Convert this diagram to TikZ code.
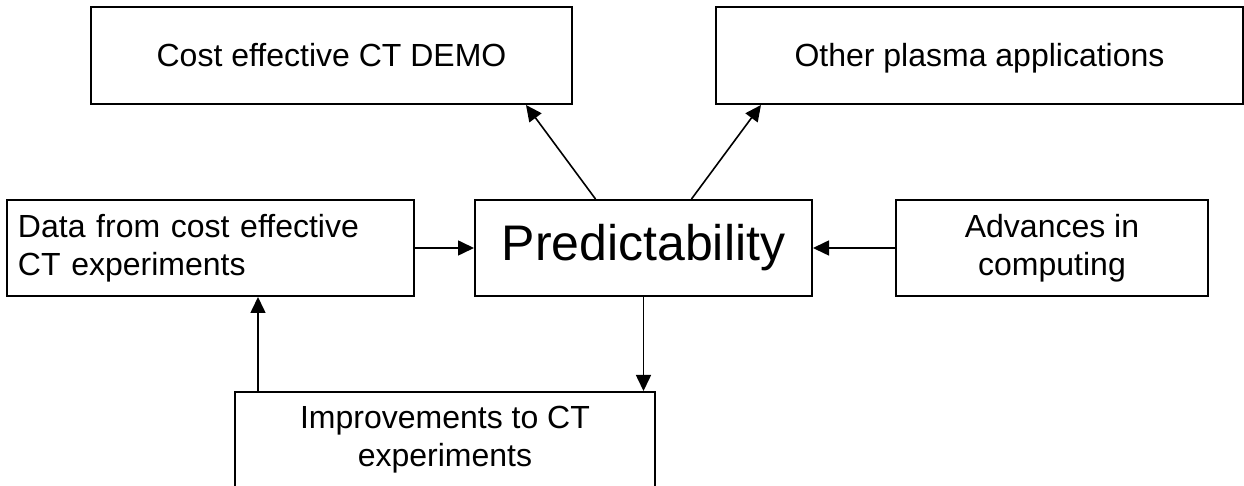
\documentclass[tikz,border=0pt]{standalone}
\usepackage{fontspec}
\setmainfont{Liberation Sans}
\usetikzlibrary{arrows.meta}
\begin{document}
\begin{tikzpicture}[x=0.5pt,y=-0.5pt]
\tikzstyle{every node}+=[font=\fontsize{16pt}{19pt}\selectfont]
\tikzstyle{box}=[draw=black, line width=1pt, minimum height=48pt, inner sep=0pt, align=center]
\tikzstyle{oneline}=[text height=13pt, text depth=2pt]
\tikzstyle{link}=[draw=black, line width=0.8pt, -{Triangle[length=8pt,width=7.5pt]}]
\useasboundingbox (0,0) rectangle (1244,486);
\node [box, oneline, minimum width=240.5pt, minimum height=48.5pt] (demo) at (331.5,55.5) {Cost effective CT DEMO};
\node [box, oneline, minimum width=263.5pt, minimum height=48.5pt] (other) at (979.5,55.5) {Other plasma applications};
\node [box, minimum width=203.5pt, text width=192.5pt, align=left] (data) at (210.5,248) {Data from cost effective\\CT experiments};
\node [box, minimum width=168.5pt, font=\fontsize{25pt}{30pt}\selectfont] (pred) at (643.5,248) {Predictability};
\node [box, minimum width=156pt] (adv) at (1052,248) {Advances in\\computing};
\node [box, minimum width=210pt] (impr) at (445,440) {Improvements to CT\\experiments};
\draw [link] ([xshift=-24pt]pred.north) -- ([xshift=-23.5pt]demo.south east);
\draw [link] ([xshift=24pt]pred.north) -- ([xshift=23pt]other.south west);
\draw [link] (data) -- (pred);
\draw [link] (adv) -- (pred);
\draw [link] (pred.south) -- (pred.south |- impr.north);
\draw [link] ([xshift=12pt]impr.north west) -- ([xshift=12pt]impr.north west |- data.south);
\end{tikzpicture}
\end{document}
